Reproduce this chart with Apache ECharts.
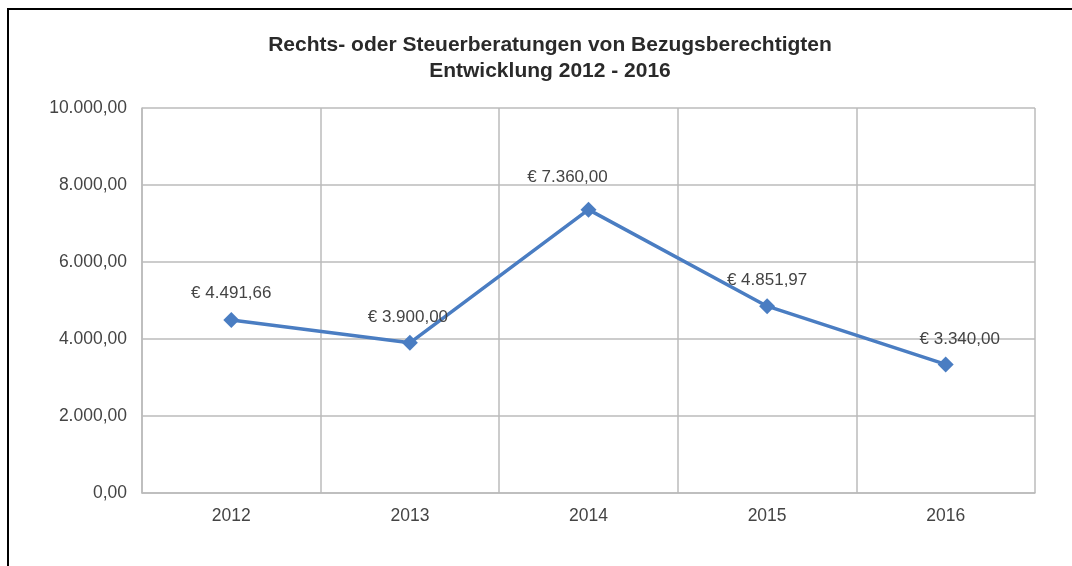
<!DOCTYPE html>
<html>
<head>
<meta charset="utf-8">
<script src="https://cdn.jsdelivr.net/npm/echarts@6/dist/echarts.min.js"></script>
<style>
  html, body { margin: 0; padding: 0; background: #fff; }
  #frame {
    position: absolute; left: 7px; top: 8px; width: 1072px; height: 566px;
    border-left: 2px solid #000; border-top: 2px solid #000;
  }
  #chart { position: absolute; left: 0; top: 0; width: 1072px; height: 566px; }
</style>
</head>
<body>
<div id="frame"></div>
<div id="chart"></div>
<script>
  const YEARS = ['2012', '2013', '2014', '2015', '2016']
  const AMOUNTS = [4491.66, 3900.00, 7360.00, 4851.97, 3340.00]
  // label nudges per point (x, y)
  const LABEL_SHIFT = [[0, 0], [-2, 1], [-21, -6], [0, 1], [14, 1]]

  const fmt = (v) => {
    const parts = v.toFixed(2).split('.')
    parts[0] = parts[0].replace(/\B(?=(\d{3})+(?!\d))/g, '.')
    return parts.join(',')
  }

  const chart = echarts.init(document.getElementById('chart'))
  chart.setOption({
    backgroundColor: 'transparent',
    animation: false,
    title: {
      text: 'Rechts- oder Steuerberatungen von Bezugsberechtigten\nEntwicklung 2012 - 2016',
      left: 545,
      top: 27,
      textAlign: 'center',
      textStyle: {
        fontFamily: 'Liberation Sans, Arial, sans-serif',
        fontSize: 21,
        fontWeight: 'bold',
        color: '#2a2a2a',
        lineHeight: 26
      }
    },
    grid: { left: 142, right: 37, top: 108, bottom: 73 },
    xAxis: {
      type: 'category',
      data: YEARS,
      boundaryGap: true,
      axisLine: { lineStyle: { color: '#bbb', width: 1.5 } },
      axisTick: { show: false },
      splitLine: { show: true, lineStyle: { color: '#bbb', width: 1.5 } },
      axisLabel: {
        margin: 14,
        fontFamily: 'Liberation Sans, Arial, sans-serif',
        fontSize: 17.5,
        color: '#444'
      }
    },
    yAxis: {
      type: 'value',
      min: 0,
      max: 10000,
      interval: 2000,
      axisLine: { show: true, lineStyle: { color: '#bbb', width: 1.5 } },
      splitLine: { lineStyle: { color: '#bbb', width: 1.5 } },
      axisLabel: {
        margin: 15,
        fontFamily: 'Liberation Sans, Arial, sans-serif',
        fontSize: 17.5,
        color: '#444',
        formatter: (v) => fmt(v)
      }
    },
    series: [{
      type: 'line',
      data: AMOUNTS.map((v, i) => ({
        value: v,
        label: { offset: LABEL_SHIFT[i] }
      })),
      symbol: 'diamond',
      symbolSize: 16,
      lineStyle: { color: '#4a7dc2', width: 3.5 },
      itemStyle: { color: '#4a7dc2' },
      label: {
        show: true,
        position: 'top',
        distance: 10,
        fontFamily: 'Liberation Sans, Arial, sans-serif',
        fontSize: 17,
        color: '#444',
        formatter: (p) => '€ ' + fmt(p.value)
      }
    }]
  })
</script>
</body>
</html>
